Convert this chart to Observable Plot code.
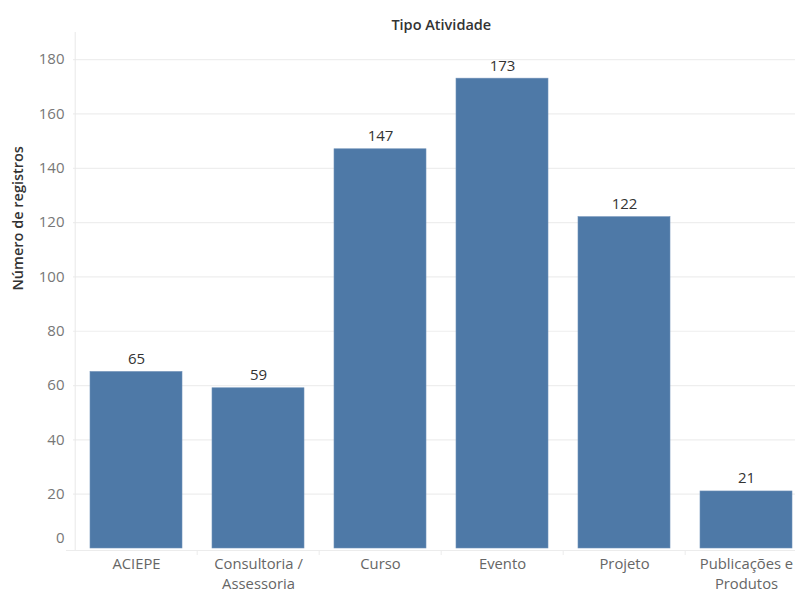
<!DOCTYPE html>
<html>
<head>
<meta charset="utf-8">
<script src="https://cdn.jsdelivr.net/npm/d3@7"></script>
<script src="https://cdn.jsdelivr.net/npm/@observablehq/plot@0.6"></script>
<style>
  html, body { margin: 0; padding: 0; background: #fff; }
  #chart svg { display: block; overflow: visible; }
</style>
</head>
<body>
<div id="chart"></div>
<script>
// Activity types and number of records per type
const categories = ["ACIEPE", "Consultoria /\nAssessoria", "Curso", "Evento", "Projeto", "Publicações e\nProdutos"];
const counts = [65, 59, 147, 173, 122, 21];
const yTicks = [0, 20, 40, 60, 80, 100, 120, 140, 160, 180];

const title = "Tipo Atividade";
const yLabel = "Número de registros";

const data = categories.map((c, i) => ({cat: c, n: counts[i]}));

const font = "'Open Sans', 'Noto Sans', sans-serif";
const blue = "#4e79a7";
const halfStep = -61.3; // offset from a band's centre to its left boundary

const chart = Plot.plot({
  width: 795,
  height: 593,
  marginTop: 32,
  marginBottom: 45,
  marginLeft: 73,
  marginRight: 0,
  style: {fontFamily: font, fontSize: "15px", background: "#fff", overflow: "visible"},
  x: {domain: categories, range: [73, 808.6], paddingInner: 0.25, paddingOuter: 0.125, axis: null},
  y: {domain: [0, 190], axis: null},
  marks: [
    // horizontal gridlines
    Plot.ruleY(yTicks.filter(d => d > 0), {stroke: "#eeeeee", strokeWidth: 1.2}),
    // vertical axis line at the left edge of the first band
    Plot.ruleX([categories[0]], {x: d => d, dx: halfStep, y1: 190, y2: 0, insetBottom: -2, stroke: "#e8e8e8"}),
    // bars
    Plot.barY(data, {x: "cat", y: "n", fill: blue, stroke: "#6f91b8", strokeWidth: 0.6}),
    // baseline below the bars
    Plot.ruleY([0], {dy: 2, stroke: "#ececec", insetLeft: -7}),
    // separators between categories
    Plot.ruleX(categories.slice(1), {x: d => d, y1: 0, y2: 0, insetTop: 2, insetBottom: -7, dx: halfStep, stroke: "#ececec"}),
    // value labels
    Plot.text(data, {x: "cat", y: "n", text: d => String(d.n), lineAnchor: "bottom", dy: -8, fill: "#333", fontSize: 15}),
    // category labels
    Plot.text(data, {x: "cat", y: () => 0, text: "cat", lineAnchor: "top", dy: 6, lineHeight: 1.38, fill: "#666", fontSize: 14.8}),
    // y tick labels
    Plot.axisY(yTicks.filter(d => d > 0), {tickSize: 0, tickPadding: 9, label: null, fill: "#777", fontSize: 15}),
    Plot.axisY([0], {tickSize: 0, tickPadding: 9, label: null, fill: "#777", fontSize: 15, dy: -10}),
    // y axis title
    Plot.text([yLabel], {frameAnchor: "left", dx: -55, rotate: -90, fill: "#333", fontSize: 14.5, fontWeight: 600}),
    // chart title
    Plot.text([title], {frameAnchor: "top", dx: 6.8, dy: -13, fill: "#333", fontSize: 14.5, fontWeight: 600})
  ]
});

document.getElementById("chart").append(chart);
</script>
</body>
</html>
